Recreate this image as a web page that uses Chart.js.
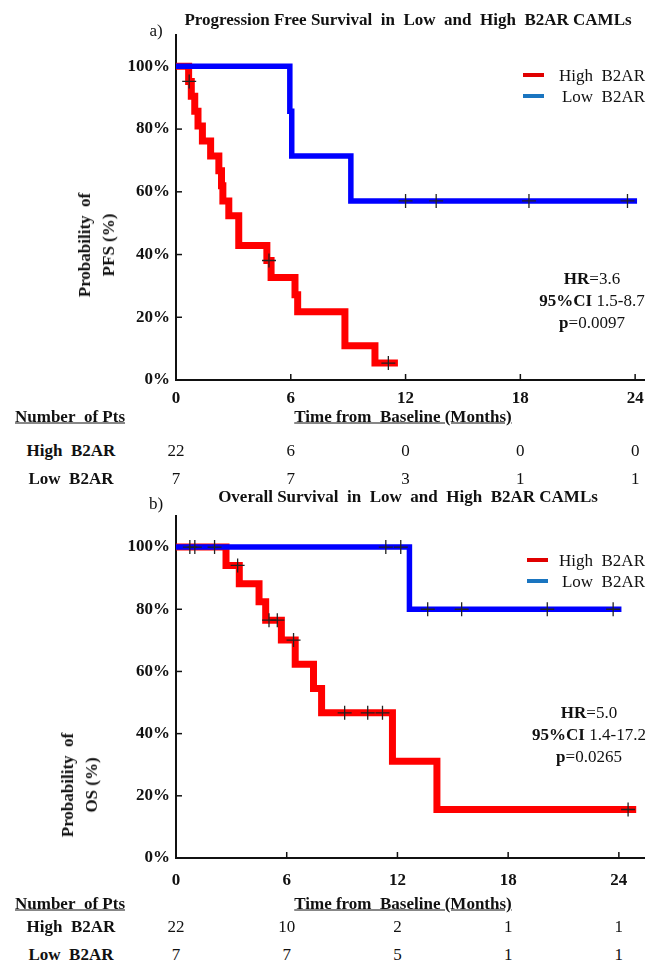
<!DOCTYPE html>
<html>
<head>
<meta charset="utf-8">
<script src="https://cdn.jsdelivr.net/npm/chart.js@4.4.1/dist/chart.umd.min.js"></script>
<style>
  body { margin: 0; background: #fff; }
  #wrap { position: relative; width: 653px; height: 964px; font-family: "Liberation Serif", "Times New Roman", serif; color: #111; }
  canvas { position: absolute; left: 0; }
  .t { position: absolute; white-space: nowrap; font-size: 17px; line-height: 1; transform: translate(-50%, -50%); }
  .b { font-weight: bold; }
  .u { text-decoration: underline; }
  .ylab { position: absolute; font-size: 17px; font-weight: bold; line-height: 24px; text-align: center; white-space: nowrap; transform: translate(-50%, -50%) rotate(-90deg); }
  .key { position: absolute; width: 21px; height: 4px; }
</style>
</head>
<body>
<div id="wrap">
  <canvas id="pfsChart" width="653" height="420" style="top:0"></canvas>
  <canvas id="osChart" width="653" height="420" style="top:480px"></canvas>
</div>
<script>
// tick months shared by both panels
const tickMonths = [0, 6, 12, 18, 24];

// a) progression free survival (Kaplan-Meier steps, % surviving)
const pfsHighTime = [0, 0.66, 0.80, 0.98, 1.15, 1.38, 1.81, 2.24, 2.38, 2.45, 2.76, 3.28, 4.75, 4.97, 6.22, 6.36, 8.83, 10.4, 11.6];
const pfsHighSurv = [100, 95.2, 90.5, 85.7, 81.0, 76.2, 71.4, 66.7, 61.9, 57.1, 52.4, 42.9, 38.1, 32.7, 27.2, 21.8, 10.9, 5.4, 5.4];
const pfsHighCensor = [0.69, 4.86, 11.1];
const pfsLowTime = [0, 5.95, 6.05, 9.14, 24.1];
const pfsLowSurv = [100, 85.7, 71.4, 57.1, 57.1];
const pfsLowCensor = [12.0, 13.6, 18.45, 23.6];
const pfsRiskHigh = [22, 6, 0, 0, 0];
const pfsRiskLow = [7, 7, 3, 1, 1];

// b) overall survival
const osHighTime = [0, 2.71, 3.43, 4.5, 4.86, 5.71, 6.46, 7.45, 7.89, 11.73, 14.14, 24.94];
const osHighSurv = [100, 94.1, 88.2, 82.4, 76.5, 70.1, 62.3, 54.5, 46.7, 31.1, 15.6, 15.6];
const osHighCensor = [3.34, 5.04, 5.49, 6.37, 9.14, 10.39, 11.19, 24.5];
const osLowTime = [0, 12.65, 24.14];
const osLowSurv = [100, 80, 80];
const osLowCensor = [0.75, 1.02, 2.09, 11.37, 12.18, 13.64, 15.48, 20.12, 23.69];
const osRiskHigh = [22, 10, 2, 1, 1];
const osRiskLow = [7, 7, 5, 1, 1];

const FONT = '"Liberation Serif", "Times New Roman", serif';
const wrap = document.getElementById('wrap');

// value of a step curve at time t
function stepValue(times, surv, t) {
  let v = surv[0];
  for (let i = 0; i < times.length; i++) if (times[i] <= t) v = surv[i];
  return v;
}

function curve(times, surv) {
  return times.map((t, i) => ({ x: t, y: surv[i] }));
}

function censorPoints(times, surv, marks) {
  return marks.map(t => ({ x: t, y: stepValue(times, surv, t) }));
}

// small ticks drawn inward from the axes
const innerTicks = {
  id: 'innerTicks',
  beforeDatasetsDraw(chart) {
    const { ctx, chartArea, scales: { x, y } } = chart;
    ctx.save();
    ctx.strokeStyle = '#111';
    ctx.lineWidth = 1.5;
    y.ticks.forEach(t => {
      const py = y.getPixelForValue(t.value);
      ctx.beginPath(); ctx.moveTo(chartArea.left, py); ctx.lineTo(chartArea.left + 6, py); ctx.stroke();
    });
    x.ticks.forEach(t => {
      if (t.value === 0) return;
      const px = x.getPixelForValue(t.value);
      ctx.beginPath(); ctx.moveTo(px, chartArea.bottom); ctx.lineTo(px, chartArea.bottom - 6); ctx.stroke();
    });
    ctx.restore();
  }
};

function makePanel(id, p) {
  return new Chart(document.getElementById(id), {
    type: 'line',
    data: {
      datasets: [
        { data: curve(p.lowTime, p.lowSurv), borderColor: '#0000ff', borderWidth: 5.5, stepped: true, pointRadius: 0, order: 1 },
        { data: curve(p.highTime, p.highSurv), borderColor: '#ff0000', borderWidth: 7, stepped: true, pointRadius: 0, order: 2 },
        { data: censorPoints(p.lowTime, p.lowSurv, p.lowCensor), showLine: false, pointStyle: 'cross', pointRadius: 7, borderColor: '#222', borderWidth: 1.3, order: 0 },
        { data: censorPoints(p.highTime, p.highSurv, p.highCensor), showLine: false, pointStyle: 'cross', pointRadius: 7, borderColor: '#222', borderWidth: 1.3, order: 0 }
      ]
    },
    options: {
      responsive: false,
      animation: false,
      layout: { padding: { top: p.padTop, right: 3, left: 0, bottom: 0 } },
      plugins: { legend: { display: false }, tooltip: { enabled: false } },
      scales: {
        x: {
          type: 'linear', min: 0, max: p.xMax,
          grid: { drawOnChartArea: false, drawTicks: false },
          border: { color: '#111', width: 2 },
          ticks: { color: '#111', padding: p.xPad, maxRotation: 0, font: { family: FONT, size: 17, weight: 'bold' } },
          afterBuildTicks: s => { s.ticks = tickMonths.map(v => ({ value: v })); },
          afterFit: s => { s.height = p.xHeight; }
        },
        y: {
          type: 'linear', min: 0, max: 110,
          grid: { drawOnChartArea: false, drawTicks: false },
          border: { color: '#111', width: 2 },
          ticks: { stepSize: 20, color: '#111', padding: 6, font: { family: FONT, size: 17, weight: 'bold' }, callback: v => v + '%' },
          afterBuildTicks: s => { s.ticks = s.ticks.filter(t => t.value <= 100); },
          afterFit: s => { s.width = 176; }
        }
      }
    },
    plugins: [innerTicks]
  });
}

function text(html, x, y, cls, align) {
  const d = document.createElement('div');
  d.className = 't ' + (cls || '');
  d.innerHTML = html;
  d.style.left = x + 'px';
  d.style.top = y + 'px';
  if (align === 'left') d.style.transform = 'translate(0,-50%)';
  if (align === 'right') d.style.transform = 'translate(-100%,-50%)';
  wrap.appendChild(d);
  return d;
}

function key(color, x, y) {
  const d = document.createElement('div');
  d.className = 'key';
  d.style.background = color;
  d.style.left = x + 'px';
  d.style.top = (y - 2) + 'px';
  wrap.appendChild(d);
}

function yLabel(html, x, y) {
  const d = document.createElement('div');
  d.className = 'ylab';
  d.innerHTML = html;
  d.style.left = x + 'px';
  d.style.top = y + 'px';
  wrap.appendChild(d);
}

const pfs = makePanel('pfsChart', {
  highTime: pfsHighTime, highSurv: pfsHighSurv, highCensor: pfsHighCensor,
  lowTime: pfsLowTime, lowSurv: pfsLowSurv, lowCensor: pfsLowCensor,
  padTop: 35, xMax: 24.5, xHeight: 40, xPad: 8
});
const os = makePanel('osChart', {
  highTime: osHighTime, highSurv: osHighSurv, highCensor: osHighCensor,
  lowTime: osLowTime, lowSurv: osLowSurv, lowCensor: osLowCensor,
  padTop: 36, xMax: 25.4, xHeight: 42, xPad: 12
});

function decorate(chart, o) {
  text(o.title, 408, o.titleY, 'b');
  text(o.tag, 156, o.tagY);
  yLabel(o.ylab, o.ylabX, o.ylabY);
  key('#e00000', o.keyX, o.keyY);
  key('#1a75c0', o.keyX, o.keyY + 21);
  text('High&nbsp; B2AR', 645, o.keyY, '', 'right');
  text('Low&nbsp; B2AR', 645, o.keyY + 21, '', 'right');
  o.stats.forEach((s, i) => text(s, o.statX, o.statY + i * 22));
  text('Time from&nbsp; Baseline (Months)', 403, o.tableY, 'b u');
  text('Number&nbsp; of Pts', 15, o.tableY, 'b u', 'left');
  text('High&nbsp; B2AR', 71, o.rowY[0], 'b');
  text('Low&nbsp; B2AR', 71, o.rowY[1], 'b');
  const x = chart.scales.x;
  tickMonths.forEach((m, i) => {
    const px = x.getPixelForValue(m);
    text(String(o.riskHigh[i]), px, o.rowY[0]);
    text(String(o.riskLow[i]), px, o.rowY[1]);
  });
}

decorate(pfs, {
  title: 'Progression Free Survival&nbsp; in&nbsp; Low&nbsp; and&nbsp; High&nbsp; B2AR CAMLs', titleY: 19,
  tag: 'a)', tagY: 30,
  ylab: 'Probability&nbsp; of<br>PFS (%)', ylabX: 97, ylabY: 245,
  keyX: 523, keyY: 75,
  stats: ['<b>HR</b>=3.6', '<b>95%CI</b> 1.5-8.7', '<b>p</b>=0.0097'], statX: 592, statY: 278,
  tableY: 416, rowY: [450, 478],
  riskHigh: pfsRiskHigh, riskLow: pfsRiskLow
});
decorate(os, {
  title: 'Overall Survival&nbsp; in&nbsp; Low&nbsp; and&nbsp; High&nbsp; B2AR CAMLs', titleY: 496,
  tag: 'b)', tagY: 503,
  ylab: 'Probability&nbsp; of<br>OS (%)', ylabX: 80, ylabY: 785,
  keyX: 527, keyY: 560,
  stats: ['<b>HR</b>=5.0', '<b>95%CI</b> 1.4-17.2', '<b>p</b>=0.0265'], statX: 589, statY: 712,
  tableY: 903, rowY: [926, 954],
  riskHigh: osRiskHigh, riskLow: osRiskLow
});
</script>
</body>
</html>
